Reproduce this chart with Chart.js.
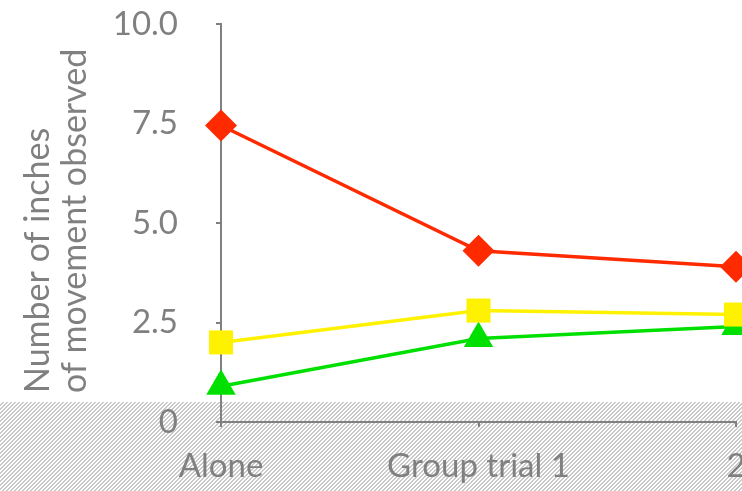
<!DOCTYPE html>
<html>
<head>
<meta charset="utf-8">
<script src="https://cdn.jsdelivr.net/npm/chart.js@4.4.0/dist/chart.umd.min.js"></script>
<style>
  html, body { margin: 0; padding: 0; background: #fff; overflow: hidden; }
  #wrap { position: relative; width: 750px; height: 491px; }
</style>
</head>
<body>
<div id="wrap"><canvas id="chart-canvas"></canvas></div>
<script>
let trials = ["Alone", "Group trial 1", "2"];
let series_red = [7.45, 4.3, 3.9];
let series_yellow = [2.0, 2.8, 2.7];
let series_green = [0.9, 2.1, 2.4];
let y_ticks = [0, 2.5, 5.0, 7.5, 10.0];
let y_title = ["Number of inches", "of movement observed"];

let GREY = "#808080";
let FONT = "Lato";
let TICK_SIZE = 33;
let TITLE_SIZE = 34;

// striped band along the bottom of the picture
function makeHatch(ctx) {
  let c = document.createElement("canvas");
  c.width = 4;
  c.height = 4;
  let g = c.getContext("2d");
  g.fillStyle = "#c9c9c9";
  for (let y = 0; y < 4; y++) {
    for (let x = 0; x < 4; x++) {
      if ((x + y) % 4 == 0 || (x + y) % 4 == 1) g.fillRect(x, y, 1, 1);
    }
  }
  return ctx.createPattern(c, "repeat");
}

let hatchPlugin = {
  id: "hatch",
  beforeDraw(chart) {
    let ctx = chart.ctx;
    ctx.save();
    ctx.fillStyle = makeHatch(ctx);
    ctx.fillRect(0, 402, chart.width, chart.height - 402);
    ctx.restore();
  },
};

// two line axis title, left aligned (reads bottom to top)
let titlePlugin = {
  id: "ytitle",
  afterDraw(chart) {
    let ctx = chart.ctx;
    let left = chart.chartArea.left;
    ctx.save();
    ctx.font = TITLE_SIZE + "px " + FONT;
    ctx.fillStyle = GREY;
    ctx.textAlign = "left";
    ctx.textBaseline = "middle";
    let xs = [left - 183, left - 146];
    for (let i = 0; i < y_title.length; i++) {
      ctx.save();
      ctx.translate(xs[i], chart.chartArea.bottom - 29);
      ctx.rotate(-Math.PI / 2);
      ctx.fillText(y_title[i], 0, 0);
      ctx.restore();
    }
    ctx.restore();
  },
};

function dataset(label, data, color, style, radius) {
  return {
    label: label,
    data: data,
    borderColor: color,
    backgroundColor: color,
    borderWidth: 3.5,
    pointStyle: style,
    pointRadius: radius,
    pointHoverRadius: radius,
    pointBorderWidth: 0,
    tension: 0,
    clip: false,
  };
}

let chart = new Chart(document.getElementById("chart-canvas"), {
  type: "line",
  data: {
    labels: trials,
    datasets: [
      dataset("red", series_red, "#ff2a00", "rectRot", 16),
      dataset("yellow", series_yellow, "#fff200", "rect", 17),
      dataset("green", series_green, "#00e000", "triangle", 17),
    ],
  },
  options: {
    responsive: true,
    maintainAspectRatio: false,
    animation: false,
    layout: { autoPadding: false, padding: { top: 24, left: 0, right: 14, bottom: 0 } },
    plugins: {
      legend: { display: false },
      tooltip: { enabled: false },
    },
    scales: {
      x: {
        offset: false,
        border: { display: true, color: GREY, width: 2 },
        grid: { drawOnChartArea: false, drawTicks: true, tickLength: 5, color: GREY, lineWidth: 2 },
        ticks: { color: GREY, font: { family: FONT, size: TICK_SIZE }, padding: 20, maxRotation: 0, autoSkip: false },
        afterFit(scale) {
          scale.height = 69;
          scale.paddingLeft = 0;
          scale.paddingRight = 0;
        },
      },
      y: {
        min: 0,
        max: 10,
        border: { display: true, color: GREY, width: 2 },
        grid: { drawOnChartArea: false, drawTicks: true, tickLength: 5, color: GREY, lineWidth: 2 },
        ticks: {
          color: GREY,
          font: { family: FONT, size: TICK_SIZE },
          padding: 38,
          callback: (v) => (v == 0 ? "0" : v.toFixed(1)),
        },
        afterBuildTicks(scale) { scale.ticks = y_ticks.map((v) => ({ value: v })); },
        afterFit(scale) {
          scale.width = 221;
          scale.paddingTop = 0;
          scale.paddingBottom = 0;
        },
      },
    },
  },
  plugins: [hatchPlugin, titlePlugin],
});
</script>
</body>
</html>
